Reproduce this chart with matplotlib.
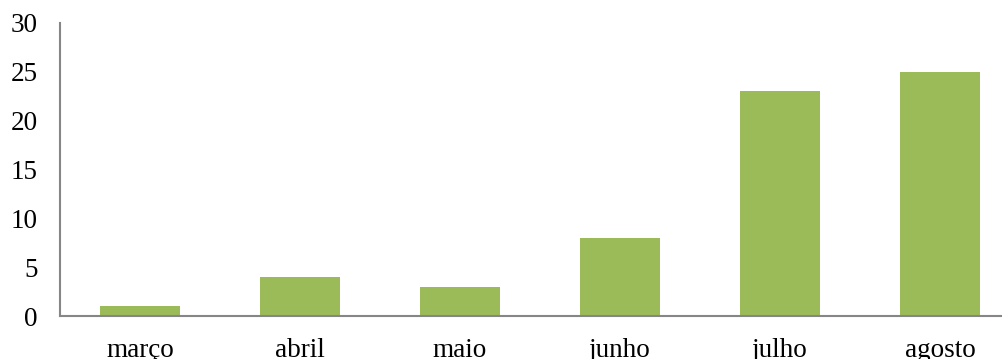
import matplotlib.pyplot as plt

# Data
months = ['março', 'abril', 'maio', 'junho', 'julho', 'agosto']
values = [1, 4, 3, 8, 23, 25]
yticks = [0, 5, 10, 15, 20, 25, 30]

plt.rcParams['font.family'] = ['Liberation Serif', 'DejaVu Serif']

fig = plt.figure(figsize=(10.03, 3.59), dpi=100)
ax = fig.add_axes([60 / 1003, 43 / 359, 960 / 1003, 293 / 359])

ax.bar(range(len(months)), values, width=0.5, color='#9BBB59')

ax.set_xlim(-0.5, len(months) - 0.5)
ax.set_ylim(0, 30)
ax.set_yticks(yticks)
ax.set_xticks(range(len(months)))
ax.set_xticklabels(months)

for s in ['top', 'right']:
    ax.spines[s].set_visible(False)
for s in ['left', 'bottom']:
    ax.spines[s].set_color('#868686')
    ax.spines[s].set_linewidth(1.5)

ax.tick_params(axis='both', length=0, labelsize=19.5)
ax.tick_params(axis='x', pad=16)
ax.tick_params(axis='y', pad=16)

fig.savefig('out.png', dpi=100)
